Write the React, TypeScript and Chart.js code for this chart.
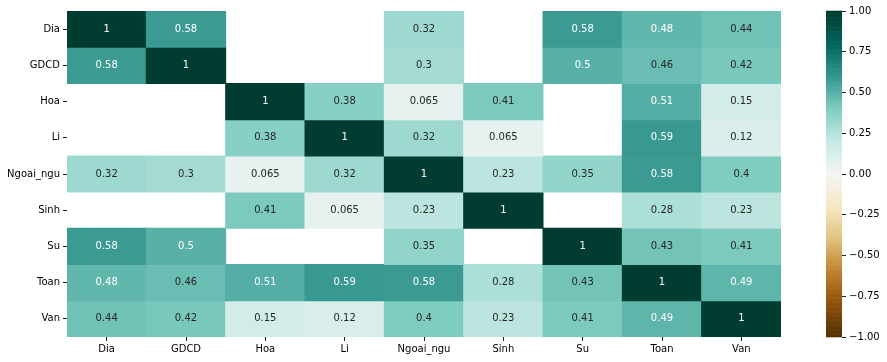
import React, { useEffect, useRef } from "react";
import { Chart, registerables } from "chart.js";

Chart.register(...registerables);

const categories = ["Dia", "GDCD", "Hoa", "Li", "Ngoai_ngu", "Sinh", "Su", "Toan", "Van"];

const rowDia = [1, 0.58, null, null, 0.32, null, 0.58, 0.48, 0.44];
const rowGDCD = [0.58, 1, null, null, 0.3, null, 0.5, 0.46, 0.42];
const rowHoa = [null, null, 1, 0.38, 0.065, 0.41, null, 0.51, 0.15];
const rowLi = [null, null, 0.38, 1, 0.32, 0.065, null, 0.59, 0.12];
const rowNgoaiNgu = [0.32, 0.3, 0.065, 0.32, 1, 0.23, 0.35, 0.58, 0.4];
const rowSinh = [null, null, 0.41, 0.065, 0.23, 1, null, 0.28, 0.23];
const rowSu = [0.58, 0.5, null, null, 0.35, null, 1, 0.43, 0.41];
const rowToan = [0.48, 0.46, 0.51, 0.59, 0.58, 0.28, 0.43, 1, 0.49];
const rowVan = [0.44, 0.42, 0.15, 0.12, 0.4, 0.23, 0.41, 0.49, 1];

const matrix: (number | null)[][] = [rowDia, rowGDCD, rowHoa, rowLi, rowNgoaiNgu, rowSinh, rowSu, rowToan, rowVan];

const colorbarMin = -1;
const colorbarMax = 1;
const colorbarStep = 0.25;

const BRBG = [
  [0.32941176470588235, 0.18823529411764706, 0.0196078431372549],
  [0.5490196078431373, 0.3176470588235294, 0.0392156862745098],
  [0.7490196078431373, 0.5058823529411764, 0.17647058823529413],
  [0.8745098039215686, 0.7607843137254902, 0.49019607843137253],
  [0.9647058823529412, 0.9098039215686274, 0.7647058823529411],
  [0.9607843137254902, 0.9607843137254902, 0.9607843137254902],
  [0.7803921568627451, 0.9176470588235294, 0.8980392156862745],
  [0.5019607843137255, 0.803921568627451, 0.7568627450980392],
  [0.20784313725490197, 0.592156862745098, 0.5607843137254902],
  [0.00392156862745098, 0.4, 0.3686274509803922],
  [0.0, 0.23529411764705882, 0.18823529411764706],
];

function brbgRGB(v: number): number[] {
  let t = (v - colorbarMin) / (colorbarMax - colorbarMin);
  t = Math.max(0, Math.min(1, t));
  const idx = Math.min(255, Math.floor(t * 256));
  const tt = idx / 255;
  const pos = tt * 10;
  const i = Math.min(9, Math.floor(pos));
  const f = pos - i;
  const a = BRBG[i];
  const b = BRBG[i + 1];
  return [0, 1, 2].map((k) => a[k] + (b[k] - a[k]) * f);
}

function toCss(c: number[]): string {
  return `rgb(${Math.round(c[0] * 255)},${Math.round(c[1] * 255)},${Math.round(c[2] * 255)})`;
}

function relLum(c: number[]): number {
  const lin = c.map((x) => (x <= 0.03928 ? x / 12.92 : Math.pow((x + 0.055) / 1.055, 2.4)));
  return 0.2126 * lin[0] + 0.7152 * lin[1] + 0.0722 * lin[2];
}

const FONT = "'DejaVu Sans', sans-serif";

export default function App() {
  const heatRef = useRef<HTMLCanvasElement>(null);
  const cbRef = useRef<HTMLCanvasElement>(null);

  useEffect(() => {
    document.body.style.margin = "0";
    Chart.defaults.font.family = FONT;
    Chart.defaults.font.size = 10;
    Chart.defaults.color = "#000";

    const datasets = matrix.map((row, r) => ({
      label: categories[r],
      data: row.map((v) => (v == null ? null : [r, r + 1])),
      backgroundColor: row.map((v) => (v == null ? "rgba(0,0,0,0)" : toCss(brbgRGB(v)))),
      borderWidth: 0,
      barPercentage: 1,
      categoryPercentage: 1,
      grouped: false,
      inflateAmount: 0.5,
    }));

    const annotPlugin = {
      id: "annot",
      afterDatasetsDraw(chart: any) {
        const ctx = chart.ctx;
        const xs = chart.scales.x;
        const ys = chart.scales.y;
        ctx.save();
        ctx.font = `10px ${FONT}`;
        ctx.textAlign = "center";
        ctx.textBaseline = "middle";
        matrix.forEach((row, r) => {
          row.forEach((v, c) => {
            if (v == null) return;
            const lum = relLum(brbgRGB(v));
            ctx.fillStyle = lum > 0.408 ? "#262626" : "#ffffff";
            ctx.fillText(String(v), xs.getPixelForValue(c), ys.getPixelForValue(r + 0.5));
          });
        });
        ctx.restore();
      },
    };

    const heat = new Chart(heatRef.current!, {
      type: "bar",
      data: { labels: categories, datasets: datasets as any },
      options: {
        animation: false,
        responsive: false,
        maintainAspectRatio: false,
        layout: { padding: { top: 11, right: 19, left: 0, bottom: 0 } },
        plugins: { legend: { display: false }, tooltip: { enabled: false } },
        scales: {
          x: {
            type: "category",
            offset: true,
            grid: { display: true, offset: false, drawOnChartArea: false, drawTicks: true, tickLength: 4, color: "#222", lineWidth: 1 },
            border: { display: false },
            ticks: { autoSkip: false, maxRotation: 0, padding: 2, color: "#000", font: { size: 10, family: FONT } },
            afterFit: (s: any) => {
              s.height = 25;
            },
          },
          y: {
            type: "linear",
            min: 0,
            max: categories.length,
            reverse: true,
            afterBuildTicks: (s: any) => {
              s.ticks = categories.map((_, i) => ({ value: i + 0.5 }));
            },
            grid: { display: true, drawOnChartArea: false, drawTicks: true, tickLength: 4, color: "#222", lineWidth: 1 },
            border: { display: false },
            ticks: {
              autoSkip: false,
              padding: 3,
              color: "#000",
              font: { size: 10, family: FONT },
              callback: (_v: any, i: number) => categories[i],
            },
            afterFit: (s: any) => {
              s.width = 67;
            },
          },
        },
      },
      plugins: [annotPlugin],
    });

    const cbPlugin = {
      id: "cbar",
      beforeDatasetsDraw(chart: any) {
        const ctx = chart.ctx;
        const ys = chart.scales.y;
        const area = chart.chartArea;
        const n = 256;
        ctx.save();
        for (let k = 0; k < n; k++) {
          const v0 = colorbarMin + ((colorbarMax - colorbarMin) * k) / n;
          const v1 = colorbarMin + ((colorbarMax - colorbarMin) * (k + 1)) / n;
          const p0 = ys.getPixelForValue(v0);
          const p1 = ys.getPixelForValue(v1);
          ctx.fillStyle = toCss(brbgRGB((v0 + v1) / 2));
          ctx.fillRect(area.left, Math.min(p0, p1) - 0.3, area.right - area.left, Math.abs(p1 - p0) + 0.6);
        }
        ctx.restore();
      },
    };

    const cb = new Chart(cbRef.current!, {
      type: "bar",
      data: { labels: [""], datasets: [] },
      options: {
        animation: false,
        responsive: false,
        maintainAspectRatio: false,
        layout: { padding: { top: 11, bottom: 25, left: 26, right: 0 } },
        plugins: { legend: { display: false }, tooltip: { enabled: false } },
        scales: {
          x: { display: false },
          y: {
            type: "linear",
            position: "right",
            min: colorbarMin,
            max: colorbarMax,
            ticks: {
              stepSize: colorbarStep,
              padding: 3,
              color: "#000",
              font: { size: 10, family: FONT },
              callback: (v: any) => {
                const n = Number(v);
                const s = Math.abs(n).toFixed(2);
                return n < 0 ? "\u2212" + s : s;
              },
            },
            grid: { display: true, drawOnChartArea: false, drawTicks: true, tickLength: 4, color: "#222", lineWidth: 1 },
            border: { display: false },
            afterFit: (s: any) => {
              s.width = 45;
            },
          },
        },
      },
      plugins: [cbPlugin],
    });

    return () => {
      heat.destroy();
      cb.destroy();
    };
  }, []);

  return (
    <div style={{ position: "fixed", left: 0, top: 0, width: 887, height: 362, background: "#fff" }}>
      <canvas ref={heatRef} width={800} height={362} style={{ position: "absolute", left: 0, top: 0, width: 800, height: 362 }} />
      <canvas ref={cbRef} width={87} height={362} style={{ position: "absolute", left: 800, top: 0, width: 87, height: 362 }} />
    </div>
  );
}
